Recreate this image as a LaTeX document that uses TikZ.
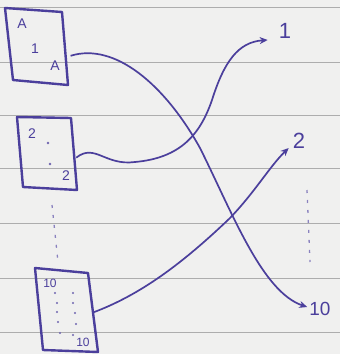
\documentclass[tikz,border=0pt]{standalone}
\usepackage{fontspec}
\setmainfont{Liberation Sans}
\usetikzlibrary{arrows.meta,calc}
\definecolor{ink}{HTML}{4B3F9C}
\definecolor{paper}{HTML}{F0F0EF}
\definecolor{ruling}{HTML}{ADADAD}
\begin{document}
\begin{tikzpicture}[x=1pt,y=-1pt,
  card/.style={draw=ink,line width=2.4pt,line join=round},
  link/.style={draw=ink,line width=1.7pt,-{Stealth[length=8pt,width=7pt]}},
  glyph/.style={text=ink,inner sep=0.5pt,font=\fontsize{14}{14}\selectfont},
  target/.style={text=ink,inner sep=1pt,font=\fontsize{22}{22}\selectfont},
  spot/.style={fill=ink!80,circle,inner sep=0pt,minimum size=2.6pt},
  gap/.style={draw=ink!65,line width=1.3pt,dash pattern=on 3pt off 7pt}]
% sheet of ruled paper
\fill[paper] (0,0) rectangle (340,354);
\useasboundingbox (0,0) rectangle (340,354);
\foreach \yy in {7,62,115,168,223,278,332}
  \draw[ruling,line width=0.7pt] (0,\yy) -- (340,\yy);

% first card
\coordinate (p1a) at (5,8);   \coordinate (p1b) at (62,12);
\coordinate (p1c) at (68,85); \coordinate (p1d) at (13,80);
\draw[card] (p1a) -- (p1b) -- (p1c) -- (p1d) -- cycle;
\node[glyph] (a1) at (22,24) {A};
\node[glyph] (n1) at (35,49) {1};
\node[glyph] (a2) at (55,66) {A};

% second card
\coordinate (p2a) at (17,117); \coordinate (p2b) at (71,118);
\coordinate (p2c) at (77,190); \coordinate (p2d) at (23,187);
\draw[card] (p2a) -- (p2b) -- (p2c) -- (p2d) -- cycle;
\node[glyph] (b1) at (32,134) {2};
\node[spot] (b2) at (48,143) {};
\node[spot] (b3) at (50,164) {};
\node[glyph] (b4) at (66,176) {2};

% last card
\coordinate (p3a) at (35,268); \coordinate (p3b) at (88,273);
\coordinate (p3c) at (98,352); \coordinate (p3d) at (43,350);
\draw[card] (p3a) -- (p3b) -- (p3c) -- (p3d) -- cycle;
\node[glyph,font=\fontsize{12}{12}\selectfont] (c1) at (50,283) {10};
\foreach \px/\py [count=\i] in {55/293,57/303,57/312,58/322,60/333,73/293,73/303,75/313,76/324,73/335}
  \node[spot,minimum size=2.4pt] (cd\i) at (\px,\py) {};
\node[glyph,font=\fontsize{12}{12}\selectfont] (c2) at (83,342) {10};

% elided cards and targets
\coordinate (g1) at (52,205);
\coordinate (g2) at (58,262);
\draw[gap] (g1) -- (g2);
\coordinate (h1) at (307,190);
\coordinate (h2) at (310,262);
\draw[gap] (h1) -- (h2);

% targets
\node[target] (t1) at (285,31) {1};
\node[target] (t2) at (299,141) {2};
\node[target,font=\fontsize{19}{19}\selectfont] (t10) at (320,309) {10};

% where each arrow leaves its card
\coordinate (s1) at ($($(p1b)!0.6!(p1c)$)+(5,0)$);
\coordinate (s2) at ($($(p2b)!0.55!(p2c)$)+(2,0)$);
\coordinate (s3) at ($(p3b)!0.5!(p3c)$);

% mapping arrows
\draw[link] (s1)
  .. controls (115,42) and (165,85) .. (200,148)
  .. controls (232,212) and (262,292) .. ($(t10.west)+(-1,-2)$);
\draw[link] (s2)
  .. controls (95,143) and (105,166) .. (135,162)
  .. controls (180,158) and (200,135) .. (212,100)
  .. controls (224,62) and (238,42) .. ($(t1.west)+(-10,9)$);
\draw[link] (s3)
  .. controls (140,295) and (182,264) .. (230,218)
  .. controls (255,192) and (270,166) .. ($(t2.west)+(-3,7)$);
\end{tikzpicture}
\end{document}
